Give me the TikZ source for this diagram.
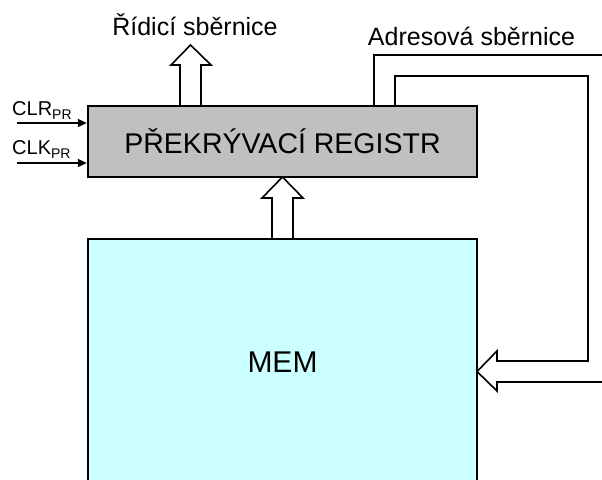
\documentclass[tikz,border=0pt]{standalone}
\usepackage{fontspec}
\setmainfont{Liberation Sans}
\usetikzlibrary{calc,arrows.meta}
\definecolor{reggray}{HTML}{C0C0C0}
\definecolor{memcyan}{HTML}{CCFFFF}
\tikzset{
  unitbox/.style={draw=black, line width=2.5pt, rectangle, inner sep=0pt, minimum width=389pt},
  regbox/.style={unitbox, fill=reggray, minimum height=71pt, text height=23pt, text depth=0pt,
                 font=\fontsize{28.5}{30}\selectfont},
  membox/.style={unitbox, fill=memcyan, minimum height=246pt, text height=21pt, text depth=0pt,
                 font=\fontsize{30}{32}\selectfont},
  buslabel/.style={anchor=base, inner sep=0pt, font=\fontsize{25}{27}\selectfont},
  siglabel/.style={anchor=base west, inner sep=0pt, font=\fontsize{20}{22}\selectfont},
  busline/.style={draw=black, line width=1.6pt},
  blockarrow/.style={draw=black, fill=white, line width=1.6pt, line join=miter},
  inarrow/.style={draw=black, line width=1.8pt, -{Triangle[length=9pt,width=8pt]}}
}
\newcommand{\sigsub}[1]{\raisebox{-4pt}{\fontsize{14}{14}\selectfont #1}}
\begin{document}
\begin{tikzpicture}[x=1pt,y=-1pt]
  \useasboundingbox (0,0) rectangle (602,479);
  \clip (0,0) rectangle (602,479);

  % block arrows (drawn first so the box borders lie over their ends)
  % control bus, upwards out of the register
  \draw[blockarrow] (180,106) -- (180,65) -- (171,65) -- (190.5,45) -- (211,65) -- (201,65) -- (201,106);
  % data path from memory up into the register
  \draw[blockarrow] (272,239) -- (272,198) -- (262,198) -- (282.5,177) -- (303,198) -- (293,198) -- (293,239);
  % address bus into the memory
  \draw[blockarrow] (602,382) -- (497,382) -- (497,391) -- (477,371.5) -- (497,351) -- (497,361) -- (588,361)
        -- (588,76) -- (395,76) -- (395,106);
  \draw[busline] (374,106) -- (374,55) -- (602,55);

  % memory and overlay register
  \node[membox] (mem) at (282.5,362) {MEM};
  \node[regbox] (reg) at (282.5,141.5) {PŘEKRÝVACÍ REGISTR};

  % bus names
  \node[buslabel] (ctl) at (195,35) {Řídicí sběrnice};
  \node[buslabel] (adr) at (471.5,45) {Adresová sběrnice};

  % register control inputs
  \node[siglabel] (clr) at (12,115) {CLR\sigsub{PR}};
  \node[siglabel] (clk) at (12,154) {CLK\sigsub{PR}};
  \coordinate (clrin) at (17,123);
  \coordinate (clkin) at (17,163);
  \draw[inarrow] (clrin) -- (clrin -| reg.west);
  \draw[inarrow] (clkin) -- (clkin -| reg.west);
\end{tikzpicture}
\end{document}
